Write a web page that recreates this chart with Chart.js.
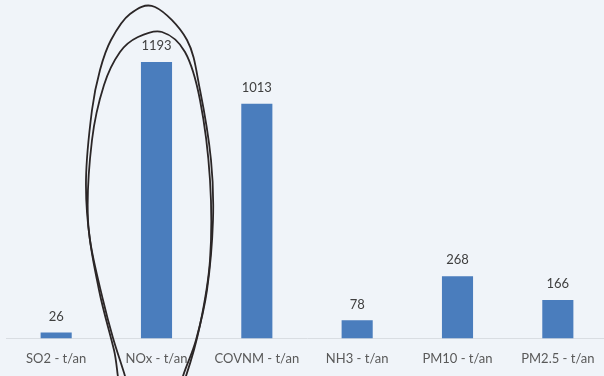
<!DOCTYPE html>
<html lang="fr">
<head>
<meta charset="UTF-8">
<title>Emissions</title>
<script src="https://cdn.jsdelivr.net/npm/chart.js"></script>
<style>
  html, body { margin: 0; padding: 0; background: #f0f4f9; overflow: hidden; }
  #wrap { width: 610px; height: 376px; }
</style>
</head>
<body>
<div id="wrap"><canvas id="myChart"></canvas></div>
<script>
const categories = ['SO2 - t/an', 'NOx - t/an', 'COVNM - t/an', 'NH3 - t/an', 'PM10 - t/an', 'PM2.5 - t/an'];
const valeurs = [26, 1193, 1013, 78, 268, 166];

// labels above the bars
const labelsPlugin = {
  id: 'labels',
  afterDatasetsDraw(chart) {
    const ctx = chart.ctx;
    const meta = chart.getDatasetMeta(0);
    ctx.save();
    ctx.font = '13px Lato, "Open Sans", sans-serif';
    ctx.fillStyle = '#404040';
    ctx.textAlign = 'center';
    ctx.textBaseline = 'middle';
    meta.data.forEach((bar, i) => {
      ctx.fillText(valeurs[i], bar.x, bar.y - 16);
    });
    ctx.restore();
  }
};

// hand drawn circle around NOx
const circlePlugin = {
  id: 'circle',
  afterDraw(chart) {
    const ctx = chart.ctx;
    const strokes = [
      [[155,7],[187,40],[200,90],[211,160],[213,220],[207,290],[196,340],[183,376],[170,420],[138,420],[125,376],[113,338],[103,300],[90,240],[86,180],[92,110],[100,70],[111,40],[130,14]],
      [[162,32],[185,52],[200,100],[210,180],[210,260],[200,325],[186,376],[165,430],[125,400],[114,350],[99,290],[88,220],[92,140],[104,85],[120,52],[138,37]]
    ];
    ctx.save();
    ctx.strokeStyle = '#2b2627';
    ctx.lineWidth = 1.8;
    strokes.forEach(pts => {
      const n = pts.length;
      ctx.beginPath();
      ctx.moveTo(pts[0][0], pts[0][1]);
      for (let i = 0; i < n; i++) {
        const p0 = pts[(i - 1 + n) % n], p1 = pts[i], p2 = pts[(i + 1) % n], p3 = pts[(i + 2) % n];
        ctx.bezierCurveTo(
          p1[0] + (p2[0] - p0[0]) / 6, p1[1] + (p2[1] - p0[1]) / 6,
          p2[0] - (p3[0] - p1[0]) / 6, p2[1] - (p3[1] - p1[1]) / 6,
          p2[0], p2[1]);
      }
      ctx.stroke();
    });
    ctx.restore();
  }
};

new Chart(document.getElementById('myChart'), {
  type: 'bar',
  data: {
    labels: categories,
    datasets: [{
      data: valeurs,
      backgroundColor: '#4a7dbd',
      barPercentage: 1,
      categoryPercentage: 0.31
    }]
  },
  options: {
    responsive: true,
    maintainAspectRatio: false,
    animation: false,
    layout: { padding: { top: 14, left: 6, right: 2, bottom: 4 } },
    plugins: { legend: { display: false }, tooltip: { enabled: false } },
    scales: {
      x: {
        grid: { display: false },
        border: { display: true, color: '#d9dde2', width: 1 },
        ticks: {
          padding: 5,
          maxRotation: 0,
          autoSkip: false,
          color: '#595959',
          font: { family: 'Lato, "Open Sans", sans-serif', size: 13 }
        }
      },
      y: { display: false, min: 0, max: 1400 }
    }
  },
  plugins: [labelsPlugin, circlePlugin]
});
</script>
</body>
</html>
